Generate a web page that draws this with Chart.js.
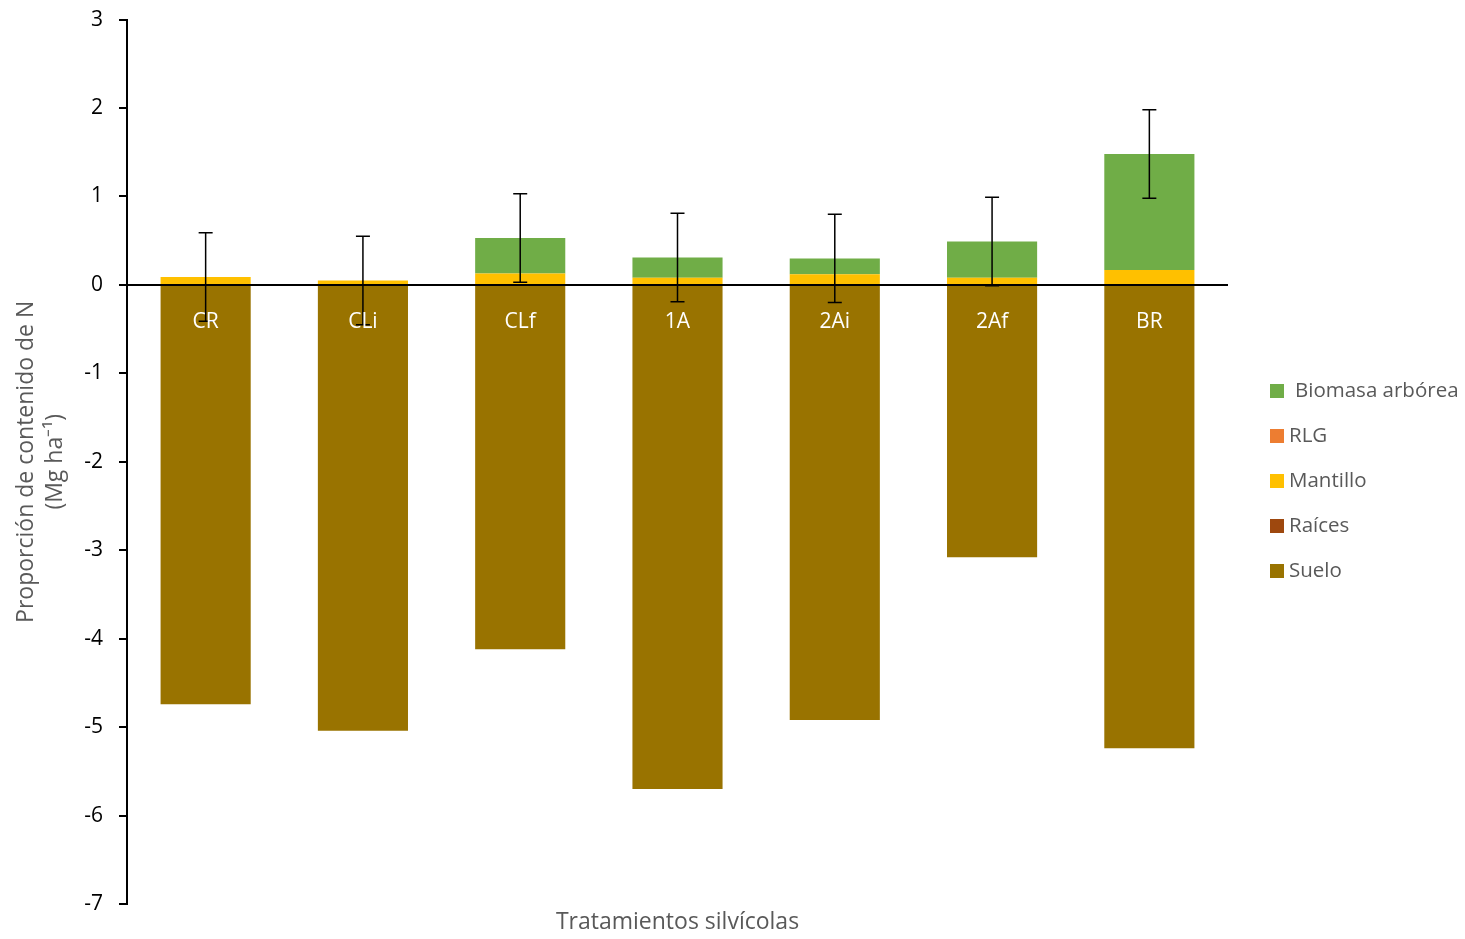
<!DOCTYPE html>
<html>
<head>
<meta charset="utf-8">
<script src="https://cdn.jsdelivr.net/npm/chart.js@4"></script>
<style>
  html, body { margin: 0; padding: 0; background: #fff; }
  #wrap { width: 1465px; height: 939px; }
</style>
</head>
<body>
<div id="wrap"><canvas id="chart"></canvas></div>
<script>
const tratamientos = ["CR", "CLi", "CLf", "1A", "2Ai", "2Af", "BR"];
const suelo    = [-4.74, -5.04, -4.12, -5.70, -4.92, -3.08, -5.24];
const raices   = [0, 0, 0, 0, 0, 0, 0];
const mantillo = [0.09, 0.05, 0.13, 0.08, 0.12, 0.08, 0.17];
const rlg      = [0, 0, 0, 0, 0, 0, 0];
const biomasa  = [0, 0, 0.40, 0.23, 0.18, 0.41, 1.31];
const errores  = [0.5, 0.5, 0.5, 0.5, 0.5, 0.5, 0.5];
const yTicks   = [-7, -6, -5, -4, -3, -2, -1, 0, 1, 2, 3];

const FONT = "'Open Sans', sans-serif";
const GRIS = "#595959";

// legend order, top to bottom
const leyenda = [
  { label: "Biomasa arbórea", color: "#70AD47" },
  { label: "RLG", color: "#ED7D31" },
  { label: "Mantillo", color: "#FFC000" },
  { label: "Raíces", color: "#9E480E" },
  { label: "Suelo", color: "#997300" }
];

// error bars on the positive stack + white labels under the zero line + legend
const extras = {
  id: "extras",
  afterDraw(chart) {
    const ctx = chart.ctx;
    const x = chart.scales.x, y = chart.scales.y;
    ctx.save();
    ctx.strokeStyle = "#000";
    ctx.lineWidth = 1.5;
    tratamientos.forEach((t, i) => {
      const cx = x.getPixelForValue(i);
      const top = mantillo[i] + rlg[i] + biomasa[i];
      const y1 = y.getPixelForValue(top + errores[i]);
      const y2 = y.getPixelForValue(top - errores[i]);
      ctx.beginPath();
      ctx.moveTo(cx, y1); ctx.lineTo(cx, y2);
      ctx.moveTo(cx - 7, y1); ctx.lineTo(cx + 7, y1);
      ctx.moveTo(cx - 7, y2); ctx.lineTo(cx + 7, y2);
      ctx.stroke();
    });
    ctx.fillStyle = "#fff";
    ctx.font = "21px " + FONT;
    ctx.textAlign = "center";
    ctx.textBaseline = "middle";
    const y0 = y.getPixelForValue(0);
    tratamientos.forEach((t, i) => {
      ctx.fillText(t, x.getPixelForValue(i), y0 + 37);
    });

    ctx.textAlign = "left";
    ctx.fillStyle = GRIS;
    ctx.font = "20.5px " + FONT;
    leyenda.forEach((item, i) => {
      const ly = 391 + i * 45;
      ctx.save();
      ctx.fillStyle = item.color;
      ctx.fillRect(1270, ly - 7, 14, 14);
      ctx.restore();
      ctx.fillText(item.label, i === 0 ? 1295 : 1289, ly);
    });
    ctx.restore();
  }
};

const ds = (label, data, color) => ({
  label, data,
  backgroundColor: color,
  borderWidth: 0,
  stack: "n",
  barPercentage: 0.573,
  categoryPercentage: 1
});

new Chart(document.getElementById("chart"), {
  type: "bar",
  data: {
    labels: tratamientos,
    datasets: [
      ds("Suelo", suelo, "#997300"),
      ds("Raíces", raices, "#9E480E"),
      ds("Mantillo", mantillo, "#FFC000"),
      ds("RLG", rlg, "#ED7D31"),
      ds("Biomasa arbórea", biomasa, "#70AD47")
    ]
  },
  options: {
    responsive: true,
    maintainAspectRatio: false,
    animation: false,
    layout: { padding: { left: 12, right: 237, top: 2, bottom: 3 } },
    plugins: {
      legend: { display: false },
      tooltip: { enabled: false }
    },
    scales: {
      x: {
        stacked: true,
        grid: { display: false },
        border: { display: false },
        ticks: { display: false },
        title: {
          display: true,
          text: "Tratamientos silvícolas",
          color: GRIS,
          font: { family: FONT, size: 23 },
          padding: { top: 6, bottom: 0 }
        },
        afterFit(scale) { scale.height = 32; }
      },
      y: {
        stacked: true,
        min: -7,
        max: 3,
        z: 1,
        afterBuildTicks(scale) { scale.ticks = yTicks.map(v => ({ value: v })); },
        ticks: {
          color: "#000",
          font: { family: FONT, size: 21 },
          padding: 7
        },
        grid: {
          color: ctx => (ctx.tick && ctx.tick.value === 0) ? "#000" : "rgba(0,0,0,0)",
          lineWidth: 2,
          tickColor: "#000",
          // long tick slot, only the inner 8px is drawn as the tick mark
          tickLength: 17,
          tickBorderDash: [0, 9, 8, 0],
          drawOnChartArea: true
        },
        border: { display: true, color: "#000", width: 2 },
        title: {
          display: true,
          text: ["Proporción de contenido de N", "(Mg ha\u207B\u00B9)"],
          color: GRIS,
          font: { family: FONT, size: 23, lineHeight: 1.25 },
          padding: { top: 0, bottom: 4 }
        },
        afterFit(scale) { scale.width = 115; }
      }
    }
  },
  plugins: [extras]
});
</script>
</body>
</html>
